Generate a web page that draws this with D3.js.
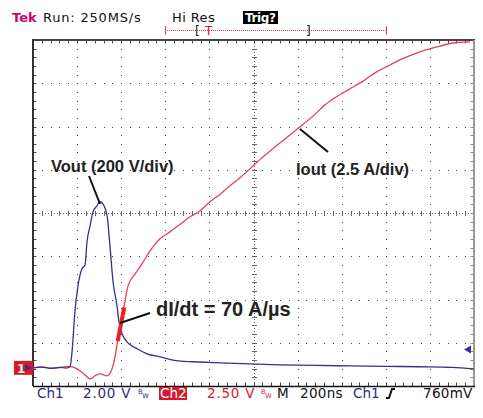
<!DOCTYPE html>
<html><head><meta charset="utf-8">
<script src="https://cdn.jsdelivr.net/npm/d3@7"></script>
<style>body{margin:0;background:#fff}svg{display:block}</style>
</head><body>
<svg id="c" width="483" height="418"></svg>
<script>
// Time in ns (200 ns/div), Vout in V (200 V/div), Iout in A (2.5 A/div)
const voutT = [0,40,80,120,150,168,177,190,204,222,236,245,259,272,290,304,317,336,349,363,381,390,408,426,472,517,576,658,760,848,980,1120,1280,1438,1600,1755,1900,2000];
const voutV = [0,3,-2,2,-1,5,74,259,379,458,476,583,657,721,749,768,758,703,564,398,287,213,148,120,88,65,51,32,27,23,18,14,11,9,7,5,2,-5];
const ioutT = [0,40,80,122,160,200,231,259,281,304,336,363,376,385,399,413,431,463,494,531,576,621,658,712,760,803,850,893,940,984,1030,1075,1140,1211,1270,1324,1380,1438,1500,1551,1610,1664,1755,1846,1914,1982];
const ioutA = [0,0.05,-0.03,0.02,0.08,-0.06,-0.35,-0.64,-0.46,-0.35,-0.46,0.12,0.92,1.68,2.83,3.58,4.74,5.43,6.01,6.76,7.46,7.86,8.21,8.73,9.1,9.6,10.05,10.52,11.0,11.5,12.05,12.54,13.2,13.93,14.55,15.2,15.7,16.13,16.6,17.05,17.45,17.8,18.27,18.6,18.79,18.84];
const didtT = [384,414];
const didtA = [1.55,3.5];
const divsX = 10, divsY = 8;
const groundDiv = -3.58;
const headerTexts = ["Tek","Run: 250MS/s","Hi Res","Trig?"];
const footer = {ch1:"Ch1", v1:"2.00 V", ch2:"Ch2", v2:"2.50 V", m:"M", tb:"200ns", trgCh:"Ch1", lvl:"760mV"};

const svg = d3.select("#c");
const L=33,R=474,T=40,B=386;
const gx = d3.scaleLinear().domain([0,divsX]).range([L,R]);
const gy = d3.scaleLinear().domain([-divsY/2,divsY/2]).range([B,T]);
const xs = d3.scaleLinear().domain([0,2000]).range([L,R]);
const yV = d3.scaleLinear().domain([(-4-groundDiv)*200,(4-groundDiv)*200]).range([B,T]);
const yA = d3.scaleLinear().domain([(-4-groundDiv)*2.5,(4-groundDiv)*2.5]).range([B,T]);

const g = svg.append("g");
// grid dots
const dots=[];
for(let i=1;i<divsX;i++){ if(i===5) continue; for(let j=1;j<divsY*5;j++) dots.push([gx(i), gy(-4+j/5)]); }
for(let k=1;k<divsY;k++){ if(k===4) continue; for(let j=1;j<divsX*5;j++) dots.push([gx(j/5), gy(-4+k)]); }
g.selectAll("rect.d").data(dots).join("rect").attr("class","d")
 .attr("x",d=>Math.round(d[0])).attr("y",d=>Math.round(d[1])).attr("width",1).attr("height",1).attr("fill","#444").attr("shape-rendering","crispEdges");
// center lines
const cx=Math.round(gx(5))+0.5, cy=Math.round(gy(0))+0.5;
g.append("line").attr("x1",L).attr("x2",R).attr("y1",cy).attr("y2",cy).attr("stroke","#666").attr("stroke-width",1).attr("stroke-dasharray","1,2").attr("shape-rendering","crispEdges");
g.append("line").attr("x1",cx).attr("x2",cx).attr("y1",T).attr("y2",B).attr("stroke","#666").attr("stroke-width",1).attr("stroke-dasharray","1,2").attr("shape-rendering","crispEdges");
const tx=d3.range(0,divsX*5+1).map(j=>gx(j/5)), ty=d3.range(0,divsY*5+1).map(j=>gy(-4+j/5));
g.selectAll("line.tx").data(tx).join("line").attr("class","tx").attr("x1",d=>Math.round(d)+0.5).attr("x2",d=>Math.round(d)+0.5).attr("y1",cy-2.5).attr("y2",cy+2.5).attr("stroke","#666");
g.selectAll("line.ty").data(ty).join("line").attr("class","ty").attr("y1",d=>Math.round(d)+0.5).attr("y2",d=>Math.round(d)+0.5).attr("x1",cx-2.5).attr("x2",cx+2.5).attr("stroke","#666");
// edge ticks
g.selectAll("line.et").data(tx).join("line").attr("class","et").attr("x1",d=>Math.round(d)+0.5).attr("x2",d=>Math.round(d)+0.5).attr("y1",T).attr("y2",T+3.5).attr("stroke","#444");
g.selectAll("line.eb").data(tx).join("line").attr("class","eb").attr("x1",d=>Math.round(d)+0.5).attr("x2",d=>Math.round(d)+0.5).attr("y1",B-3.5).attr("y2",B).attr("stroke","#444");
g.selectAll("line.el").data(ty).join("line").attr("class","el").attr("y1",d=>Math.round(d)+0.5).attr("y2",d=>Math.round(d)+0.5).attr("x1",L).attr("x2",L+3.5).attr("stroke","#555");
g.selectAll("line.er").data(ty).join("line").attr("class","er").attr("y1",d=>Math.round(d)+0.5).attr("y2",d=>Math.round(d)+0.5).attr("x1",R-3.5).attr("x2",R).attr("stroke","#888");
// frame
g.append("line").attr("x1",L).attr("x2",R+1).attr("y1",T).attr("y2",T).attr("stroke","#444").attr("stroke-width",2);
g.append("line").attr("x1",L).attr("x2",L).attr("y1",T-1).attr("y2",B).attr("stroke","#333").attr("stroke-width",2);
g.append("line").attr("x1",R).attr("x2",R).attr("y1",T).attr("y2",B).attr("stroke","#999").attr("stroke-width",2);
g.append("line").attr("x1",L).attr("x2",R+1).attr("y1",B+0.5).attr("y2",B+0.5).attr("stroke","#111").attr("stroke-width",1.5);

// traces
const lineV = d3.line().x((d,i)=>xs(voutT[i])).y(d=>yV(d)).curve(d3.curveMonotoneX);
const lineA = d3.line().x((d,i)=>xs(ioutT[i])).y(d=>yA(d)).curve(d3.curveMonotoneX);
svg.append("path").attr("d",lineA(ioutA)).attr("fill","none").attr("stroke","#e2405c").attr("stroke-width",1.3);
svg.append("path").attr("d",lineV(voutV)).attr("fill","none").attr("stroke","#34318c").attr("stroke-width",1.3);
svg.append("line").attr("x1",xs(didtT[0])).attr("y1",yA(didtA[0])).attr("x2",xs(didtT[1])).attr("y2",yA(didtA[1])).attr("stroke","#ee1c25").attr("stroke-width",4);

// annotations
const ann = svg.append("g").attr("font-family","Liberation Sans, Arial, sans-serif").attr("font-weight","bold").attr("fill","#222");
ann.append("text").attr("x",51).attr("y",172).attr("font-size",16.5).text("Vout (200 V/div)");
ann.append("line").attr("x1",89).attr("y1",176).attr("x2",100).attr("y2",204).attr("stroke","#111").attr("stroke-width",2);
ann.append("text").attr("x",296).attr("y",175).attr("font-size",16.5).text("Iout (2.5 A/div)");
ann.append("line").attr("x1",300).attr("y1",129).attr("x2",328).attr("y2",152).attr("stroke","#111").attr("stroke-width",2);
ann.append("text").attr("x",156).attr("y",316).attr("font-size",20).text("dI/dt = 70 A/\u00b5s");
ann.append("line").attr("x1",120).attr("y1",323).attr("x2",150).attr("y2",313).attr("stroke","#111").attr("stroke-width",2);

// header
const hf = "DejaVu Sans, sans-serif";
const h = svg.append("g").attr("font-family",hf).attr("font-size",13);
h.append("text").attr("x",12).attr("y",22).attr("fill","#d4006c").attr("font-weight","bold").text(headerTexts[0]);
h.append("text").attr("x",43).attr("y",22).attr("fill","#111").attr("letter-spacing",0.8).text(headerTexts[1]);
h.append("text").attr("x",172).attr("y",22).attr("fill","#111").attr("letter-spacing",0.4).text(headerTexts[2]);
h.append("rect").attr("x",243).attr("y",11).attr("width",35).attr("height",13).attr("fill","#000");
h.append("text").attr("x",245).attr("y",22).attr("fill","#fff").attr("font-weight","bold").attr("font-size",12).attr("textLength",31).text(headerTexts[3]);
h.append("line").attr("x1",165).attr("x2",386).attr("y1",30.5).attr("y2",30.5).attr("stroke","#e2405c").attr("stroke-dasharray","1,1");
[165,386].forEach(x=>h.append("line").attr("x1",x+0.5).attr("x2",x+0.5).attr("y1",26).attr("y2",35).attr("stroke","#e2405c"));
h.append("text").attr("x",195).attr("y",35).attr("fill","#111").attr("font-size",12).text("[");
h.append("text").attr("x",205).attr("y",35).attr("fill","#e01020").attr("font-size",12).text("T");
h.append("text").attr("x",306).attr("y",35).attr("fill","#111").attr("font-size",12).text("]");

// footer
const f = svg.append("g").attr("font-family",hf).attr("font-size",13.5);
const navy="#2b2c80", red="#d8182c";
f.append("text").attr("x",37).attr("y",398).attr("fill",navy).text(footer.ch1);
f.append("text").attr("x",83).attr("y",398).attr("fill",navy).attr("letter-spacing",0.8).text(footer.v1);
function bw(x,col){
  const t=f.append("text").attr("x",x).attr("y",394).attr("fill",col).attr("font-size",6.5);
  t.append("tspan").text("B");
  t.append("tspan").attr("dy",3.5).text("W");
}
bw(138,navy);
f.append("rect").attr("x",159).attr("y",387).attr("width",28).attr("height",13).attr("fill",red);
f.append("text").attr("x",160).attr("y",398).attr("fill","#fff").text(footer.ch2);
f.append("text").attr("x",207).attr("y",398).attr("fill",red).attr("letter-spacing",0.8).text(footer.v2);
bw(261,red);
f.append("text").attr("x",277).attr("y",398).attr("fill","#111").text(footer.m);
f.append("text").attr("x",300).attr("y",398).attr("fill","#111").attr("letter-spacing",0.3).text(footer.tb);
f.append("text").attr("x",353).attr("y",398).attr("fill",navy).text(footer.trgCh);
f.append("path").attr("d","M386,398 L389,398 L392,389 L395,389").attr("fill","none").attr("stroke","#111").attr("stroke-width",2);
f.append("text").attr("x",423).attr("y",398).attr("fill","#111").attr("letter-spacing",0.3).text(footer.lvl);

// channel markers
const gyPix = yV(0);
svg.append("rect").attr("x",14).attr("y",gyPix-7).attr("width",19).attr("height",14).attr("fill","#d8182c");
svg.append("text").attr("x",17).attr("y",gyPix+5).attr("font-family",hf).attr("font-size",12).attr("font-weight","bold").attr("fill","#dfe").text("1");
svg.append("path").attr("d",`M25,${gyPix-3} L32,${gyPix} L25,${gyPix+3} Z`).attr("fill","#34318c");
const trg = yV(85);
svg.append("path").attr("d",`M471,${trg-4} L464,${trg} L471,${trg+4} Z`).attr("fill","#34318c");
</script>
</body></html>
